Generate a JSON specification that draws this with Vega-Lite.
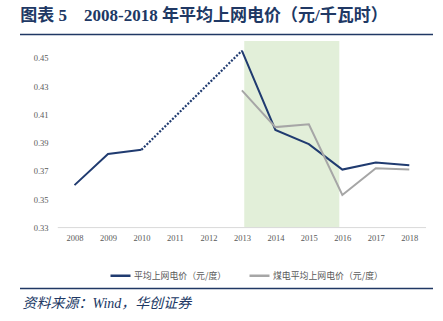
{
  "$schema": "https://vega.github.io/schema/vega-lite/v6.json",
  "width": 413,
  "height": 255,
  "autosize": "none",
  "padding": {"left": 20, "top": 34, "right": 10, "bottom": 32},
  "background": "white",
  "config": {"view": {"stroke": null}},
  "title": {
    "text": "图表 5\u00a0\u00a0\u00a0\u00a02008-2018 年平均上网电价（元/千瓦时）",
    "anchor": "start",
    "font": "Liberation Serif, Noto Sans CJK SC",
    "fontSize": 17,
    "fontWeight": "bold",
    "color": "#203864",
    "offset": 9,
    "dx": 1
  },
  "datasets": {
    "price": [
      {"year": 2008, "value": 0.360, "series": "平均上网电价（元/度）"},
      {"year": 2009, "value": 0.382, "series": "平均上网电价（元/度）"},
      {"year": 2010, "value": 0.385, "series": "平均上网电价（元/度）"},
      {"year": 2013, "value": 0.455, "series": "平均上网电价（元/度）"},
      {"year": 2014, "value": 0.399, "series": "平均上网电价（元/度）"},
      {"year": 2015, "value": 0.389, "series": "平均上网电价（元/度）"},
      {"year": 2016, "value": 0.371, "series": "平均上网电价（元/度）"},
      {"year": 2017, "value": 0.376, "series": "平均上网电价（元/度）"},
      {"year": 2018, "value": 0.374, "series": "平均上网电价（元/度）"},
      {"year": 2013, "value": 0.427, "series": "煤电平均上网电价（元/度）"},
      {"year": 2014, "value": 0.401, "series": "煤电平均上网电价（元/度）"},
      {"year": 2015, "value": 0.403, "series": "煤电平均上网电价（元/度）"},
      {"year": 2016, "value": 0.353, "series": "煤电平均上网电价（元/度）"},
      {"year": 2017, "value": 0.372, "series": "煤电平均上网电价（元/度）"},
      {"year": 2018, "value": 0.371, "series": "煤电平均上网电价（元/度）"}
    ],
    "gap": [
      {"year": 2010, "value": 0.385},
      {"year": 2013, "value": 0.455}
    ],
    "one": [{"k": 1}]
  },
  "layer": [
    {
      "data": {"name": "one"},
      "mark": {"type": "rect", "color": "#E2EFD9"},
      "encoding": {
        "x": {"datum": 2013.07, "type": "quantitative"},
        "x2": {"datum": 2015.91},
        "y": {"datum": 0.33, "type": "quantitative"},
        "y2": {"datum": 0.4618}
      }
    },
    {
      "data": {"name": "one"},
      "mark": {"type": "rule", "color": "#D9D9D9", "strokeWidth": 1},
      "encoding": {
        "x": {"datum": 2007.5, "type": "quantitative"},
        "x2": {"datum": 2018.5},
        "y": {"datum": 0.33, "type": "quantitative"}
      }
    },
    {
      "data": {"name": "one"},
      "mark": {"type": "rule", "color": "#203864", "strokeWidth": 1.5},
      "encoding": {
        "x": {"datum": 2006.372, "type": "quantitative"},
        "x2": {"datum": 2018.708},
        "y": {"datum": 0.4665, "type": "quantitative"}
      }
    },
    {
      "data": {"name": "one"},
      "mark": {"type": "rule", "color": "#203864", "strokeWidth": 1.5},
      "encoding": {
        "x": {"datum": 2006.372, "type": "quantitative"},
        "x2": {"datum": 2018.708},
        "y": {"datum": 0.2869, "type": "quantitative"}
      }
    },
    {
      "data": {"name": "gap"},
      "mark": {"type": "line", "color": "#203B70", "strokeWidth": 2.2, "strokeDash": [2, 1.6]},
      "encoding": {
        "x": {"field": "year", "type": "quantitative"},
        "y": {"field": "value", "type": "quantitative"}
      }
    },
    {
      "data": {"name": "price"},
      "transform": [{"filter": "datum.year <= 2010 && datum.series == '平均上网电价（元/度）'"}],
      "mark": {"type": "line", "strokeWidth": 2},
      "encoding": {
        "x": {"field": "year", "type": "quantitative"},
        "y": {"field": "value", "type": "quantitative"},
        "color": {"field": "series", "type": "nominal",
          "scale": {"domain": ["平均上网电价（元/度）", "煤电平均上网电价（元/度）"], "range": ["#203B70", "#A6A6A6"]}}
      }
    },
    {
      "data": {"name": "price"},
      "transform": [{"filter": "datum.year >= 2013"}],
      "mark": {"type": "line", "strokeWidth": 2},
      "encoding": {
        "x": {"field": "year", "type": "quantitative",
          "scale": {"domain": [2006.372, 2018.708], "nice": false, "zero": false},
          "axis": {
            "values": [2008, 2009, 2010, 2011, 2012, 2013, 2014, 2015, 2016, 2017, 2018],
            "format": "d",
            "offset": -61.5,
            "domain": false,
            "ticks": false,
            "grid": false,
            "labelFont": "Liberation Serif",
            "labelFontSize": 8.5,
            "labelColor": "#595959",
            "labelPadding": 6,
            "title": "资料来源：Wind，华创证券",
            "titleFont": "Liberation Serif, Noto Sans CJK SC",
            "titleFontStyle": "italic",
            "titleFontWeight": "normal",
            "titleFontSize": 14,
            "titleColor": "#203864",
            "titleAnchor": "start",
            "titleAlign": "left",
            "titleX": 2,
            "titlePadding": 54
          }
        },
        "y": {"field": "value", "type": "quantitative",
          "scale": {"domain": [0.2866, 0.4668], "nice": false, "zero": false},
          "axis": {
            "values": [0.33, 0.35, 0.37, 0.39, 0.41, 0.43, 0.45],
            "format": ".2f",
            "offset": -32,
            "domain": false,
            "ticks": false,
            "grid": false,
            "labelFont": "Liberation Serif",
            "labelFontSize": 8.5,
            "labelColor": "#595959",
            "labelPadding": 4,
            "title": null
          }
        },
        "color": {"field": "series", "type": "nominal",
          "scale": {"domain": ["平均上网电价（元/度）", "煤电平均上网电价（元/度）"], "range": ["#203B70", "#A6A6A6"]},
          "legend": {
            "title": null,
            "orient": "none",
            "direction": "horizontal",
            "legendX": 89,
            "legendY": 230,
            "symbolType": "stroke",
            "symbolSize": 400,
            "symbolStrokeWidth": 2.5,
            "labelFont": "Noto Sans CJK SC",
            "labelFontSize": 8.9,
            "labelColor": "#595959",
            "labelOffset": 2,
            "columnPadding": 17
          }
        }
      }
    }
  ]
}
